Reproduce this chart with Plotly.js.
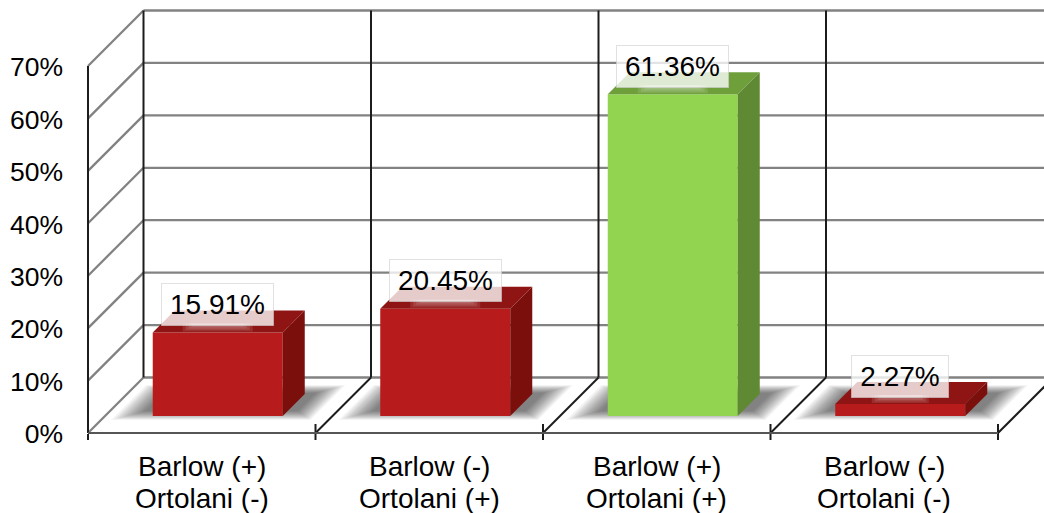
<!DOCTYPE html>
<html>
<head>
<meta charset="utf-8">
<script src="https://cdn.plot.ly/plotly-3.0.1.min.js"></script>
<style>html,body{margin:0;padding:0;background:#fff}#chart{width:1044px;height:513px}</style>
</head>
<body>
<div id="chart"></div>
<script>
// Hip examination results, drawn as a pseudo-3D column chart.
const barlowLabels = ['Barlow (+)', 'Barlow (-)', 'Barlow (+)', 'Barlow (-)'];
const ortolaniLabels = ['Ortolani (-)', 'Ortolani (+)', 'Ortolani (+)', 'Ortolani (-)'];
const percentages = [15.91, 20.45, 61.36, 2.27];
const yTicks = [0, 10, 20, 30, 40, 50, 60, 70];

const frontColors = ['#B81B1B', '#B81B1B', '#92D350', '#B81B1B'];
const sideColors = ['#7A0F0C', '#7A0F0C', '#5F8A33', '#7A0F0C'];
const topColors = ['#8F1514', '#8F1514', '#6F9F3B', '#8F1514'];

// Pixel scale of the plot: one category and one percentage point.
const PX_X = 227.5, PX_Y = 5.243;
const dx = px => px / PX_X;
const dy = px => px / PX_Y;

// Oblique projection: depth moves a point up and to the right by the same pixels.
const WALL_DEPTH = 55.5, BAR_INSET = 17, BAR_DEPTH = 22, BAR_WIDTH = 130;
const project = (x, y, depth) => [x + dx(depth), y + dy(depth)];

const GRID = '#828282', INK = '#1c1c1c';
const FONT = 'Liberation Sans, Arial, sans-serif';
const count = percentages.length;
const shapes = [];
const segment = (a, b, color, width) => shapes.push({
  type: 'line', xref: 'x', yref: 'y', layer: 'below',
  x0: a[0], y0: a[1], x1: b[0], y1: b[1],
  line: { color, width }
});

// Soft floor shadows, built up from many faint nested parallelograms.
const SHADOW_LAYERS = 22;
percentages.forEach((_, i) => {
  for (let k = 0; k < SHADOW_LAYERS; k++) {
    const t = k / (SHADOW_LAYERS - 1);
    const left = i - dx(104 - 26 * t), right = i + dx(96 - 22 * t);
    const near = 13 + 9 * t, far = 48 - 8 * t;
    const pts = [project(left, 0, near), project(right, 0, near),
                 project(right, 0, far), project(left, 0, far)];
    shapes.push({
      type: 'path', xref: 'x', yref: 'y', layer: 'below', line: { width: 0 },
      fillcolor: 'rgba(0,0,0,0.028)',
      path: 'M' + pts.map(p => p.join(',')).join('L') + 'Z'
    });
  }
});

// Side wall and back wall gridlines.
const lastX = count - 0.5;
yTicks.forEach(v => {
  const back = project(-0.5, v, WALL_DEPTH);
  segment([-0.5, v], back, GRID, 2.3);
  segment(back, [lastX + 1, back[1]], GRID, 2.3);
});

// Back wall uprights, floor diagonals and the left front edge.
for (let i = 0; i <= count; i++) {
  const edge = i - 0.5;
  const foot = project(edge, 0, WALL_DEPTH);
  if (i > 0) segment([edge, 0], foot, INK, 2);
  if (i < count) segment(foot, project(edge, 70, WALL_DEPTH), INK, 2);
  segment([edge, dy(i === 0 ? -1 : 9)], [edge, dy(-7)], INK, 2);
}
segment([-0.5, 0], [-0.5, 70], INK, 2);
segment([-0.5, 0], [lastX, 0], '#565656', 2);

// Front faces come from a bar trace lifted off the front edge of the floor.
const floorY = dy(BAR_INSET);
const barX = percentages.map((_, i) => i + dx(BAR_INSET - 1));
const traces = [{
  type: 'bar',
  x: barX,
  y: percentages,
  base: percentages.map(() => floorY),
  width: dx(BAR_WIDTH),
  marker: { color: frontColors, line: { width: 0 } },
  hoverinfo: 'skip'
}];

// Top and side faces follow each bar's value.
percentages.forEach((v, i) => {
  const l = barX[i] - dx(BAR_WIDTH) / 2, r = barX[i] + dx(BAR_WIDTH) / 2;
  const top = floorY + v;
  const face = (pts, color) => traces.push({
    type: 'scatter', mode: 'lines', x: pts.map(p => p[0]), y: pts.map(p => p[1]),
    fill: 'toself', fillcolor: color, line: { width: 0 }, hoverinfo: 'skip'
  });
  face([[l, top], [r, top], project(r, top, BAR_DEPTH), project(l, top, BAR_DEPTH), [l, top]], topColors[i]);
  face([[r, floorY], project(r, floorY, BAR_DEPTH), project(r, top, BAR_DEPTH), [r, top], [r, floorY]], sideColors[i]);
});

// Faint light spill below each value label, over the bar's top face.
const labels = percentages.map(v => v.toFixed(2) + '%');
for (let k = 0; k < 4; k++) {
  const xs = [], ys = [];
  percentages.forEach((v, i) => {
    const half = dx(labels[i].length * 6.5 - 4 - k * 3);
    const lo = floorY + v + dy(1 + k * 1.6), hi = floorY + v + dy(9);
    xs.push(barX[i] - half, barX[i] + half, barX[i] + half, barX[i] - half, barX[i] - half, null);
    ys.push(lo, lo, hi, hi, lo, null);
  });
  traces.push({
    type: 'scatter', mode: 'lines', x: xs, y: ys, fill: 'toself',
    fillcolor: 'rgba(255,255,255,0.11)', line: { width: 0 }, hoverinfo: 'skip'
  });
}

const valueNotes = percentages.map((v, i) => ({
  xref: 'x', yref: 'y',
  x: barX[i], y: floorY + v,
  yshift: 28, yanchor: 'middle', xanchor: 'center',
  text: labels[i], showarrow: false,
  width: labels[i].length * 15 + 21, height: 41,
  bgcolor: 'rgba(255,255,255,0.78)',
  bordercolor: 'rgba(205,205,205,0.6)', borderwidth: 1, borderpad: 0,
  font: { family: FONT, size: 28, color: '#000' }
}));

// Two-line category captions under each column, set with the tight leading they need.
const captionLine = (text, i, shift) => ({
  xref: 'x', yref: 'y', x: i, y: 0, yshift: shift,
  yanchor: 'middle', xanchor: 'center', text, showarrow: false,
  font: { family: FONT, size: 28, color: '#000' }
});
const captions = barlowLabels.flatMap((b, i) => [
  captionLine(b, i, -33), captionLine(ortolaniLabels[i], i, -65)
]);

const layout = {
  width: 1044, height: 513,
  margin: { l: 84, r: 0, t: 0, b: 68 },
  paper_bgcolor: '#fff', plot_bgcolor: '#fff',
  showlegend: false, barmode: 'overlay', shapes,
  annotations: valueNotes.concat(captions),
  font: { family: FONT, size: 26.5, color: '#000' },
  xaxis: {
    type: 'linear', range: [-0.5 - dx(4), -0.5 + dx(956)],
    showticklabels: false, ticks: '', showgrid: false, zeroline: false, showline: false
  },
  yaxis: {
    type: 'linear', range: [dy(-12), dy(433)],
    tickmode: 'array', tickvals: yTicks, ticktext: yTicks.map(v => v + '%'),
    ticks: '', showgrid: false, zeroline: false, showline: false,
    ticklabelstandoff: 20, ticklabelshift: 1
  }
};

Plotly.newPlot('chart', traces, layout, { displayModeBar: false, staticPlot: true });
</script>
</body>
</html>
